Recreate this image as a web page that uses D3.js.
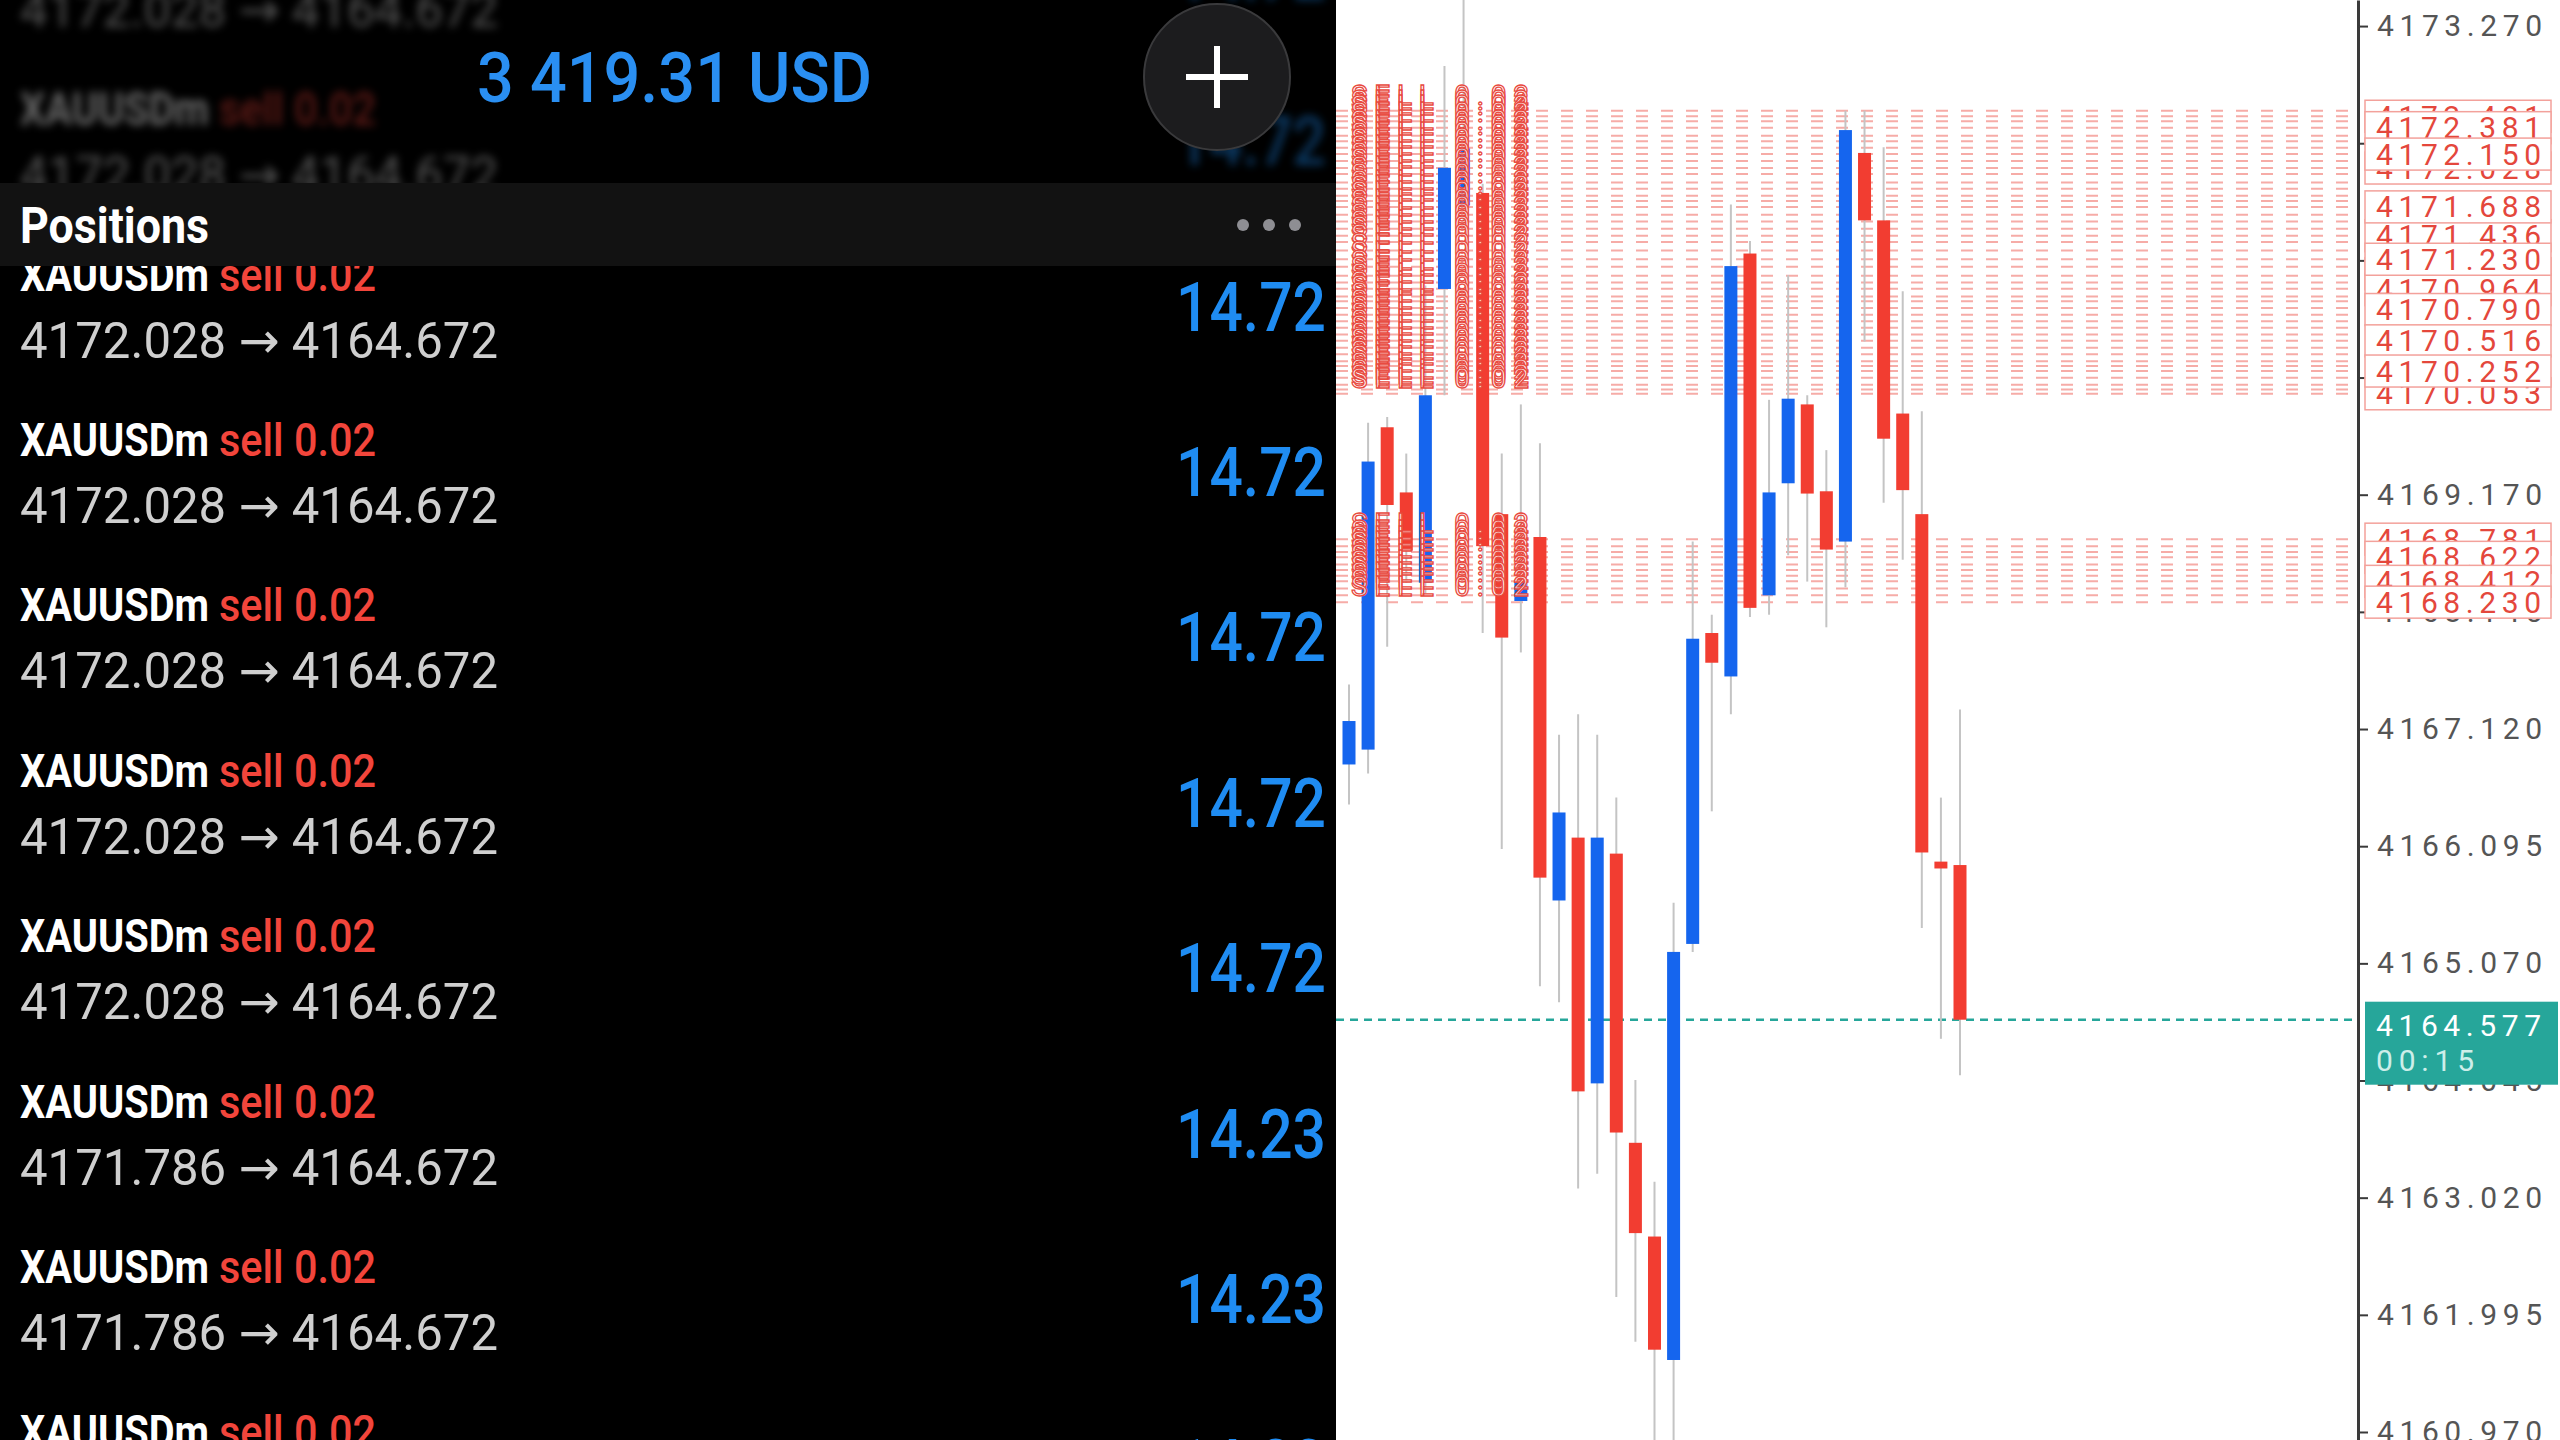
<!DOCTYPE html>
<html>
<head>
<meta charset="utf-8">
<script src="https://cdn.jsdelivr.net/npm/d3@7"></script>
<style>
html,body{margin:0;padding:0;background:#000;overflow:hidden}
text{font-family:Roboto,"Noto Sans","DejaVu Sans",sans-serif}
</style>
</head>
<body>
<div class="chart"></div>
<script>
// candles, oldest first
var opens  = [4166.81,4166.94,4169.76,4169.19,4168.40,4170.97,4171.70,4171.81,4169.00,4168.24,4168.80,4165.62,4166.17,4164.02,4166.03,4163.50,4162.68,4161.60,4165.24,4167.96,4167.58,4171.28,4168.29,4169.27,4169.96,4169.20,4168.76,4172.16,4171.57,4169.88,4169.00,4165.96,4165.93]
var highs  = [4167.51,4169.80,4169.85,4169.53,4171.00,4172.92,4173.80,4171.89,4169.53,4169.96,4169.62,4167.07,4167.25,4167.07,4166.52,4164.05,4163.16,4165.60,4168.76,4168.12,4171.71,4171.39,4170.00,4171.09,4170.04,4169.56,4172.53,4172.53,4172.21,4170.95,4169.90,4166.52,4167.29]
var lows   = [4166.46,4166.73,4167.84,4168.40,4168.31,4170.04,4171.50,4167.96,4166.07,4167.79,4164.87,4164.73,4163.10,4163.23,4162.15,4161.76,4160.70,4160.80,4165.17,4166.40,4167.25,4168.10,4168.12,4168.64,4168.41,4168.01,4168.36,4170.51,4169.10,4168.60,4165.38,4164.41,4164.09]
var closes = [4167.19,4169.46,4169.08,4168.68,4170.04,4172.03,4172.20,4168.72,4167.92,4168.41,4165.82,4166.39,4163.95,4166.17,4163.59,4162.71,4161.69,4165.17,4167.91,4167.70,4171.17,4168.18,4169.19,4170.01,4169.18,4168.69,4172.36,4171.57,4169.66,4169.21,4166.04,4165.90,4164.577]

var lastPrice = 4164.577
var timeLeft = "00:15"
var priceTicks = [4173.270,4172.245,4171.220,4170.195,4169.170,4168.145,4167.120,4166.095,4165.070,4164.045,4163.020,4161.995,4160.970]

// open sell positions (price lines)
var orderLevels = [4172.530,4172.481,4172.438,4172.381,4172.310,4172.262,4172.205,4172.150,4172.090,4172.028,4171.975,4171.902,4171.847,4171.786,4171.740,4171.688,4171.620,4171.560,4171.497,4171.436,4171.381,4171.307,4171.230,4171.165,4171.085,4171.027,4170.972,4170.904,4170.863,4170.804,4170.745,4170.688,4170.630,4170.571,4170.516,4170.455,4170.398,4170.338,4170.295,4170.252,4170.194,4170.133,4170.090,4170.053,
                   4168.781,4168.720,4168.668,4168.622,4168.560,4168.512,4168.460,4168.412,4168.350,4168.290,4168.230]
// price tags on the axis, in drawing order (last ones end up on top)
var tagPrices = [4172.481,4172.028,4171.436,4171.103,4170.964,4170.790,4170.053,4172.381,4172.150,4171.688,4171.230,4170.516,4170.252,4168.781,4168.622,4168.412,4168.230]
var orderText = "SELL 0.02"

// positions list
var balance = "3 419.31 USD"
var rowSymbol = "XAUUSDm"
var rowSide = "sell 0.02"
var rowOpen = ["4172.028","4172.028","4172.028","4172.028","4172.028","4172.028","4172.028","4171.786","4171.786","4171.786"]
var rowNow = "4164.672"
var rowProfit = ["14.72","14.72","14.72","14.72","14.72","14.72","14.72","14.23","14.23","14.23"]

function drawChart(){
	var width = 2560, height = 1440
	var split = 1336, axisX = 2358
	var svg = d3.select(".chart").append("svg").attr("width",width).attr("height",height)

	var defs = svg.append("defs")
	defs.append("filter").attr("id","blur").attr("x","-10%").attr("y","-50%").attr("width","120%").attr("height","200%")
	.append("feGaussianBlur").attr("stdDeviation",4.5)
	defs.append("clipPath").attr("id","plot").append("rect").attr("x",split).attr("y",0).attr("width",axisX-split).attr("height",height)

	// ---------- chart side ----------
	svg.append("rect").attr("x",split).attr("y",0).attr("width",width-split).attr("height",height).attr("fill","#fff")

	var y = d3.scaleLinear().domain([4160.90,4173.498]).range([height,0])
	var x = d3.scaleLinear().domain([0,opens.length-1]).range([1349,1960])

	var candles = opens.map(function(o,i){
		return {i:i,open:o,high:highs[i],low:lows[i],close:closes[i]}
	})

	var plot = svg.append("g").attr("clip-path","url(#plot)")

	plot.append("g").attr("class","levels").selectAll("line").data(orderLevels).enter().append("line")
	.attr("x1",split).attr("x2",axisX)
	.attr("y1",function(d){return y(d)}).attr("y2",function(d){return y(d)})
	.attr("stroke","#ee5a50").attr("stroke-opacity",0.5).attr("stroke-width",2)
	.attr("stroke-dasharray","12 13")

	plot.append("line").attr("x1",split).attr("x2",axisX)
	.attr("y1",y(lastPrice)).attr("y2",y(lastPrice))
	.attr("stroke","#26a69a").attr("stroke-width",2.5).attr("stroke-dasharray","8 6")

	var candleG = plot.append("g").attr("class","candles")
	candleG.selectAll("line").data(candles).enter().append("line")
	.attr("x1",function(d){return x(d.i)}).attr("x2",function(d){return x(d.i)})
	.attr("y1",function(d){return y(d.high)}).attr("y2",function(d){return y(d.low)})
	.attr("stroke","#c4c4c4").attr("stroke-width",2)

	candleG.selectAll("rect").data(candles).enter().append("rect")
	.attr("x",function(d){return x(d.i)-6.5})
	.attr("width",13)
	.attr("y",function(d){return y(Math.max(d.open,d.close))})
	.attr("height",function(d){return Math.max(3,Math.abs(y(d.open)-y(d.close)))})
	.attr("fill",function(d){return d.close>=d.open ? "#1565ee" : "#f23d31"})

	// one "SELL 0.02" label per line; stacked they smear into columns
	plot.append("g").attr("class","orderText").selectAll("text").data(orderLevels).enter().append("text")
	.text(orderText)
	.attr("x",1351).attr("y",function(d){return y(d)-6})
	.attr("font-size",28)
	.attr("textLength",178).attr("lengthAdjust","spacing")
	.attr("fill","#fff").attr("fill-opacity",0.8)
	.attr("stroke","#e8493e").attr("stroke-width",1.3)

	var axis = svg.append("g").attr("transform","translate("+axisX+",0)")
	.call(d3.axisRight(y).tickValues(priceTicks).tickSize(10).tickSizeOuter(0).tickPadding(9).tickFormat(d3.format(".3f")))
	axis.select(".domain").attr("stroke","#3a3a3a").attr("stroke-width",3)
	axis.selectAll(".tick line").attr("stroke","#3a3a3a").attr("stroke-width",2)
	axis.selectAll(".tick text").attr("font-size",30).attr("font-family","Roboto").attr("fill","#555")
	.attr("textLength",165).attr("lengthAdjust","spacing")

	var tags = svg.append("g").attr("class","tags")
	tagPrices.forEach(function(p){
		var t = tags.append("g")
		t.append("rect").attr("x",2365).attr("y",y(p)-16).attr("width",186).attr("height",32)
		.attr("fill","#fff").attr("stroke","#f3a19b").attr("stroke-width",1.5)
		t.append("text").text(d3.format(".3f")(p)).attr("x",2376).attr("y",y(p)+10.5)
		.attr("font-size",30).attr("fill","#e4473c")
		.attr("textLength",165).attr("lengthAdjust","spacing")
	})

	var now = svg.append("g").attr("class","now")
	now.append("rect").attr("x",2365).attr("y",y(lastPrice)-18).attr("width",193).attr("height",83).attr("fill","#26a69a")
	now.append("text").text(d3.format(".3f")(lastPrice)).attr("x",2376).attr("y",y(lastPrice)+16)
	.attr("font-size",30).attr("fill","#fff").attr("textLength",165).attr("lengthAdjust","spacing")
	now.append("text").text(timeLeft).attr("x",2376).attr("y",y(lastPrice)+51)
	.attr("font-size",30).attr("fill","#cdeee9").attr("textLength",98).attr("lengthAdjust","spacing")

	// ---------- positions side ----------
	var list = svg.append("g").attr("class","positions")
	list.append("rect").attr("x",0).attr("y",0).attr("width",split).attr("height",height).attr("fill","#000")

	var rows = rowOpen.map(function(o,i){
		return {k:i-2,open:o,profit:rowProfit[i],base:290.6+165.4*(i-2)}
	})

	function drawRow(g,d){
		g.append("text").text(rowSymbol).attr("x",20).attr("y",d.base)
		.attr("font-size",46).attr("font-weight",700).attr("fill","#fff")
		.attr("textLength",189).attr("lengthAdjust","spacingAndGlyphs")
		g.append("text").text(rowSide).attr("x",219).attr("y",d.base)
		.attr("font-size",46).attr("font-weight",500).attr("fill","#f2453b")
		.attr("textLength",157).attr("lengthAdjust","spacingAndGlyphs")
		g.append("text").text(d.open+" \u2192 "+rowNow).attr("x",20).attr("y",d.base+67)
		.attr("font-size",50).attr("fill","#cfcfcf")
		.attr("textLength",478).attr("lengthAdjust","spacingAndGlyphs")
		g.append("text").text(d.profit).attr("x",1326).attr("y",d.base+40).attr("text-anchor","end")
		.attr("font-size",68).attr("font-weight",500).attr("fill","#1f8cf2")
		.attr("textLength",150).attr("lengthAdjust","spacingAndGlyphs")
	}

	var blurred = list.append("g").attr("filter","url(#blur)").attr("opacity",0.4)
	var sharp = list.append("g")
	rows.forEach(function(d){
		drawRow(d.k<0 ? blurred : sharp, d)
	})

	list.append("rect").attr("x",0).attr("y",183).attr("width",split).attr("height",83).attr("fill","#121212")
	list.append("text").text("Positions").attr("x",20).attr("y",243)
	.attr("font-size",50).attr("font-weight",700).attr("fill","#fff")
	.attr("textLength",189).attr("lengthAdjust","spacingAndGlyphs")
	list.selectAll("circle.dot").data([1243,1269,1295]).enter().append("circle").attr("class","dot")
	.attr("cx",function(d){return d}).attr("cy",225).attr("r",6).attr("fill","#8e8e93")

	list.append("text").text(balance).attr("x",477).attr("y",102)
	.attr("font-size",70).attr("font-weight",500).attr("fill","#2a8ff2")
	.attr("textLength",395).attr("lengthAdjust","spacingAndGlyphs")

	list.append("circle").attr("cx",1217).attr("cy",77).attr("r",73)
	.attr("fill","#1c1c1e").attr("stroke","#3a3a3c").attr("stroke-width",2)
	list.append("path").attr("d","M1186,77H1248M1217,46V108")
	.attr("stroke","#fff").attr("stroke-width",6)
}
drawChart()
</script>
</body>
</html>
